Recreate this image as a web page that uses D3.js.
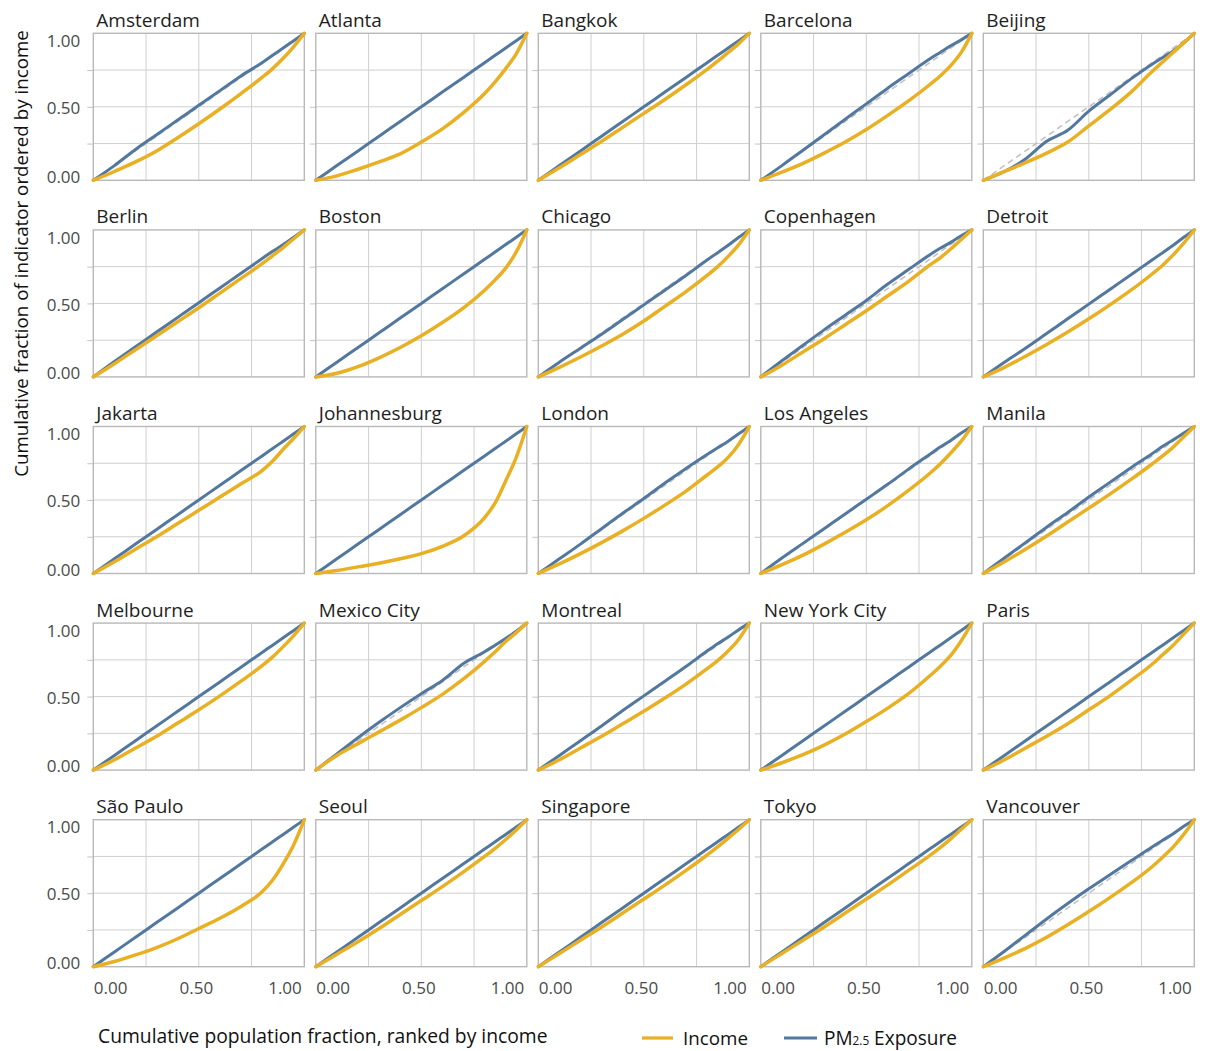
<!DOCTYPE html>
<html><head><meta charset="utf-8">
<script src="https://cdn.jsdelivr.net/npm/d3@7"></script>
<style>
body{margin:0;background:#fff;}
svg{display:block;font-family:"Open Sans",sans-serif;}
</style></head>
<body><svg id="chart" width="1209" height="1051"></svg>
<script>
// ---------- DATA ----------
const xGrid = [0, .1, .2, .3, .4, .5, .6, .7, .8, .85, .9, .95, 1];
const cities = ["Amsterdam","Atlanta","Bangkok","Barcelona","Beijing",
  "Berlin","Boston","Chicago","Copenhagen","Detroit",
  "Jakarta","Johannesburg","London","Los Angeles","Manila",
  "Melbourne","Mexico City","Montreal","New York City","Paris",
  "São Paulo","Seoul","Singapore","Tokyo","Vancouver"];
const incomeSeries = [
  [0,.06,.125,.2,.29,.385,.485,.59,.7,.76,.83,.91,1],
  [0,.03,.075,.125,.18,.26,.35,.46,.59,.67,.76,.86,1],
  [0,.085,.175,.265,.36,.455,.55,.65,.755,.81,.87,.93,1],
  [0,.055,.115,.185,.26,.345,.44,.54,.65,.71,.78,.87,1],
  [0,.06,.12,.185,.26,.37,.48,.6,.74,.805,.87,.935,1],
  [0,.09,.185,.28,.375,.47,.57,.67,.77,.825,.88,.94,1],
  [0,.025,.07,.13,.2,.28,.37,.47,.59,.66,.74,.85,1],
  [0,.065,.135,.21,.29,.38,.48,.58,.69,.75,.82,.9,1],
  [0,.08,.17,.26,.355,.45,.55,.65,.76,.81,.87,.935,1],
  [0,.065,.14,.22,.305,.395,.49,.59,.7,.76,.83,.91,1],
  [0,.08,.165,.25,.34,.43,.52,.61,.70,.765,.845,.92,1],
  [0,.02,.045,.07,.1,.135,.185,.255,.38,.48,.63,.79,1],
  [0,.065,.135,.21,.29,.375,.465,.56,.67,.725,.79,.88,1],
  [0,.06,.125,.2,.28,.365,.46,.565,.68,.745,.82,.9,1],
  [0,.08,.165,.255,.35,.445,.54,.64,.745,.8,.86,.93,1],
  [0,.07,.15,.23,.32,.41,.505,.605,.71,.77,.84,.915,1],
  [0,.1,.18,.26,.34,.425,.515,.62,.74,.805,.875,.935,1],
  [0,.07,.15,.23,.315,.4,.49,.585,.69,.745,.81,.89,1],
  [0,.05,.105,.17,.245,.33,.42,.52,.64,.705,.78,.88,1],
  [0,.07,.15,.23,.315,.41,.505,.61,.72,.785,.85,.925,1],
  [0,.035,.08,.13,.19,.26,.33,.41,.51,.59,.7,.83,1],
  [0,.085,.17,.26,.355,.45,.545,.645,.75,.805,.865,.93,1],
  [0,.09,.18,.27,.365,.46,.555,.655,.76,.815,.875,.935,1],
  [0,.09,.18,.27,.365,.46,.555,.655,.755,.81,.87,.935,1],
  [0,.06,.125,.2,.285,.375,.47,.57,.68,.745,.815,.9,1]
];
const pmSeries = [
  [0,.1,.21,.31,.41,.51,.61,.71,.8,.85,.9,.95,1],
  [0,.1,.2,.3,.4,.5,.6,.7,.8,.85,.9,.95,1],
  [0,.1,.2,.3,.4,.5,.6,.7,.8,.85,.9,.95,1],
  [0,.1,.205,.31,.415,.52,.625,.725,.825,.87,.915,.955,1],
  [0,.06,.145,.265,.34,.47,.58,.69,.79,.835,.88,.935,1],
  [0,.105,.205,.305,.405,.505,.605,.705,.805,.855,.9,.95,1],
  [0,.1,.2,.3,.4,.5,.6,.7,.8,.85,.9,.95,1],
  [0,.1,.195,.29,.39,.49,.59,.69,.795,.845,.895,.95,1],
  [0,.11,.215,.32,.42,.52,.63,.73,.83,.875,.915,.96,1],
  [0,.1,.195,.295,.395,.495,.595,.695,.795,.845,.895,.95,1],
  [0,.1,.2,.3,.4,.5,.6,.7,.8,.85,.9,.95,1],
  [0,.1,.2,.3,.4,.5,.6,.7,.8,.85,.9,.95,1],
  [0,.1,.2,.305,.41,.51,.615,.715,.81,.855,.9,.95,1],
  [0,.105,.205,.305,.405,.505,.605,.71,.81,.86,.905,.955,1],
  [0,.105,.21,.315,.415,.52,.62,.72,.815,.865,.91,.955,1],
  [0,.1,.2,.3,.4,.5,.6,.7,.8,.85,.9,.95,1],
  [0,.11,.22,.325,.425,.52,.61,.725,.805,.85,.895,.945,1],
  [0,.1,.2,.3,.405,.505,.605,.705,.81,.86,.905,.955,1],
  [0,.1,.2,.3,.4,.5,.6,.7,.8,.85,.9,.95,1],
  [0,.1,.2,.3,.4,.5,.6,.7,.8,.85,.9,.95,1],
  [0,.1,.2,.3,.4,.5,.6,.7,.8,.85,.9,.95,1],
  [0,.1,.2,.3,.4,.5,.6,.7,.8,.85,.9,.95,1],
  [0,.1,.2,.3,.4,.5,.6,.7,.8,.85,.9,.95,1],
  [0,.1,.2,.3,.4,.5,.6,.7,.8,.85,.9,.95,1],
  [0,.105,.215,.325,.43,.53,.625,.72,.815,.86,.905,.955,1]
];
const tickLabels = [0, 0.5, 1];
const gridTicks = [0.25, 0.5, 0.75];
const seriesNames = ["Income", "PM2.5 Exposure"];
const seriesColors = ["#E8B022", "#52789F"];

// ---------- LAYOUT ----------
const svg = d3.select("#chart");
const panelW = 211, panelH = 147;
const left0 = 93.3, top0 = 33.3, stepX = 222.5, stepY = 196.6;
const x = d3.scaleLinear().domain([0,1]).range([0,panelW]);
const y = d3.scaleLinear().domain([0,1]).range([panelH,0]);
const line = d3.line().x((d,i)=>x(xGrid[i])).y(d=>y(d)).curve(d3.curveMonotoneX);

function fit(sel, target){
  const node = sel.node();
  let fs = parseFloat(sel.attr("font-size"));
  const w = node.getComputedTextLength();
  if (w > 0) sel.attr("font-size", (fs*target/w).toFixed(2));
}

cities.forEach((city, i) => {
  const col = i % 5, row = Math.floor(i / 5);
  const g = svg.append("g").attr("transform", `translate(${left0 + col*stepX},${top0 + row*stepY})`);

  // grid
  g.append("g").selectAll("line").data(gridTicks).join("line")
    .attr("x1", d=>x(d)).attr("x2", d=>x(d)).attr("y1",0).attr("y2",panelH)
    .attr("stroke","#cfcfcf").attr("stroke-width",1);
  g.append("g").selectAll("line").data(gridTicks).join("line")
    .attr("y1", d=>y(d)).attr("y2", d=>y(d)).attr("x1",0).attr("x2",panelW)
    .attr("stroke","#cfcfcf").attr("stroke-width",1);

  // small left ticks
  const tk = g.append("g").call(d3.axisLeft(y).tickValues(gridTicks).tickSize(6).tickFormat(""));
  tk.select(".domain").remove();
  tk.selectAll("line").attr("stroke","#c4c4c4").attr("stroke-width",1);

  // border
  g.append("rect").attr("width",panelW).attr("height",panelH)
    .attr("fill","none").attr("stroke","#b8b8b8").attr("stroke-width",1.4);

  // diagonal
  g.append("line").attr("x1",x(0)).attr("y1",y(0)).attr("x2",x(1)).attr("y2",y(1))
    .attr("stroke","#c2c2c2").attr("stroke-width",1.6).attr("stroke-dasharray","6,4");

  // series
  g.append("path").datum(pmSeries[i]).attr("d", line)
    .attr("fill","none").attr("stroke",seriesColors[1]).attr("stroke-width",3.0)
    .attr("stroke-linejoin","round").attr("stroke-linecap","round");
  g.append("path").datum(incomeSeries[i]).attr("d", line)
    .attr("fill","none").attr("stroke",seriesColors[0]).attr("stroke-width",3.5)
    .attr("stroke-linejoin","round").attr("stroke-linecap","round");

  // title
  g.append("text").attr("x",3).attr("y",-6.6).attr("font-size",19)
    .attr("fill","#1e1e1e").text(city);

  // y labels
  if (col === 0){
    const ya = g.append("g").call(d3.axisLeft(y).tickValues(tickLabels)
      .tickFormat(d3.format(".2f")).tickSize(0).tickPadding(13));
    ya.select(".domain").remove();
    ya.selectAll("text").attr("font-size",17).attr("font-family","Open Sans, sans-serif")
      .attr("fill","#4a4a4a")
      .attr("dy", d => d===0 ? "0.1em" : d===1 ? "0.78em" : "0.39em");
  }
  // x labels
  if (row === 4){
    const xa = g.append("g").attr("transform",`translate(0,${panelH})`)
      .call(d3.axisBottom(x).tickValues(tickLabels)
      .tickFormat(d3.format(".2f")).tickSize(0).tickPadding(15.3));
    xa.select(".domain").remove();
    xa.selectAll("text").attr("font-size",17).attr("font-family","Open Sans, sans-serif")
      .attr("fill","#4a4a4a")
      .attr("text-anchor", d => d===0 ? "start" : d===1 ? "end" : "middle")
      .attr("dx", d => d===0 ? 0 : -3);
  }
});

// axis titles
const xt = svg.append("text").attr("x",98).attr("y",1043).attr("font-size",19)
  .attr("fill","#111").text("Cumulative population fraction, ranked by income");
fit(xt, 450);
const yt = svg.append("text").attr("transform","translate(28,253.5) rotate(-90)")
  .attr("text-anchor","middle").attr("font-size",19).attr("fill","#111")
  .text("Cumulative fraction of indicator ordered by income");
fit(yt, 447);

// legend
const leg = svg.append("g");
leg.append("line").attr("x1",642).attr("x2",673).attr("y1",1038).attr("y2",1038)
  .attr("stroke",seriesColors[0]).attr("stroke-width",3.2);
const l1 = leg.append("text").attr("x",683).attr("y",1044.5).attr("font-size",19)
  .attr("fill","#111").text(seriesNames[0]);
fit(l1, 65);
leg.append("line").attr("x1",784).attr("x2",817).attr("y1",1038).attr("y2",1038)
  .attr("stroke",seriesColors[1]).attr("stroke-width",3.2);
const l2 = leg.append("text").attr("x",824).attr("y",1044.5).attr("font-size",19).attr("fill","#111");
l2.append("tspan").text("PM");
l2.append("tspan").attr("font-size","0.62em").attr("dy","0.05em").text("2.5");
l2.append("tspan").attr("dy","-0.03em").text(" Exposure");
fit(l2, 133);
</script>
</body></html>
